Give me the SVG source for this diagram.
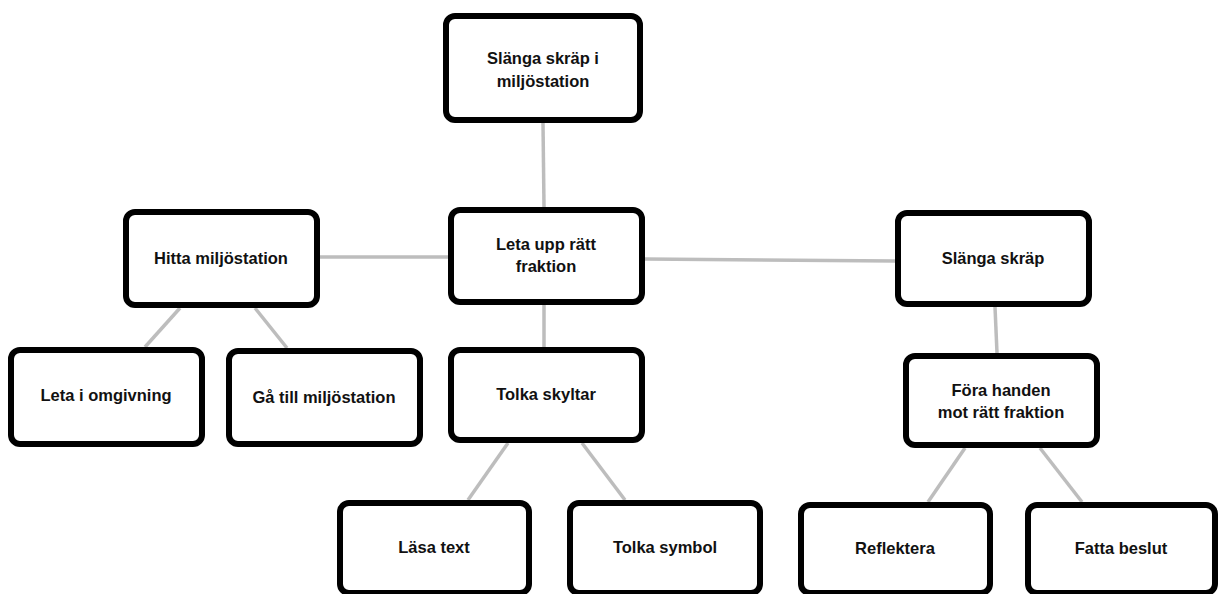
<svg xmlns="http://www.w3.org/2000/svg" width="1219" height="594" viewBox="0 0 1219 594">
<style>
.box{fill:#ffffff;stroke:#000000;stroke-width:6;}
.lbl{font-family:"Liberation Sans",Arial,sans-serif;font-weight:bold;font-size:16.5px;fill:#111111;text-anchor:middle;dominant-baseline:central;}
.con{stroke:#bdbdbd;stroke-width:3.5;fill:none;}
</style>
<rect x="0" y="0" width="1219" height="594" fill="#ffffff"/>
<g id="connectors">
<line class="con" x1="543" y1="123" x2="544" y2="207"/>
<line class="con" x1="320" y1="257" x2="448" y2="257"/>
<line class="con" x1="645" y1="259" x2="895" y2="261"/>
<line class="con" x1="544" y1="305" x2="544" y2="347"/>
<line class="con" x1="180" y1="308" x2="145" y2="347"/>
<line class="con" x1="255" y1="308" x2="287" y2="348"/>
<line class="con" x1="995" y1="307" x2="997" y2="353"/>
<line class="con" x1="508" y1="443" x2="468" y2="500"/>
<line class="con" x1="582" y1="443" x2="625" y2="500"/>
<line class="con" x1="965" y1="448" x2="928" y2="502"/>
<line class="con" x1="1040" y1="448" x2="1082" y2="502"/>
</g>
<g id="n-slanga-miljostation">
<rect class="box" x="446" y="16" width="194" height="104" rx="9"/>
<text class="lbl" x="543" y="58">Slänga skräp i</text>
<text class="lbl" x="543" y="81">miljöstation</text>
</g>
<g id="n-hitta">
<rect class="box" x="126" y="212" width="191" height="93" rx="9"/>
<text class="lbl" x="221" y="258">Hitta miljöstation</text>
</g>
<g id="n-leta-upp">
<rect class="box" x="451" y="210" width="191" height="92" rx="9"/>
<text class="lbl" x="546" y="244">Leta upp rätt</text>
<text class="lbl" x="546" y="266">fraktion</text>
</g>
<g id="n-slanga">
<rect class="box" x="898" y="213" width="191" height="91" rx="9"/>
<text class="lbl" x="993" y="258">Slänga skräp</text>
</g>
<g id="n-leta-omgivning">
<rect class="box" x="11" y="350" width="191" height="94" rx="9"/>
<text class="lbl" x="106" y="395">Leta i omgivning</text>
</g>
<g id="n-ga-till">
<rect class="box" x="229" y="351" width="191" height="93" rx="9"/>
<text class="lbl" x="324" y="397">Gå till miljöstation</text>
</g>
<g id="n-tolka-skyltar">
<rect class="box" x="451" y="350" width="191" height="90" rx="9"/>
<text class="lbl" x="546" y="394">Tolka skyltar</text>
</g>
<g id="n-fora-handen">
<rect class="box" x="906" y="356" width="191" height="89" rx="9"/>
<text class="lbl" x="1001" y="390">Föra handen</text>
<text class="lbl" x="1001" y="412">mot rätt fraktion</text>
</g>
<g id="n-lasa-text">
<rect class="box" x="340" y="503" width="189" height="90" rx="9"/>
<text class="lbl" x="434" y="547">Läsa text</text>
</g>
<g id="n-tolka-symbol">
<rect class="box" x="570" y="503" width="190" height="90" rx="9"/>
<text class="lbl" x="665" y="547">Tolka symbol</text>
</g>
<g id="n-reflektera">
<rect class="box" x="801" y="505" width="189" height="88" rx="9"/>
<text class="lbl" x="895" y="548">Reflektera</text>
</g>
<g id="n-fatta-beslut">
<rect class="box" x="1028" y="505" width="187" height="88" rx="9"/>
<text class="lbl" x="1121" y="548">Fatta beslut</text>
</g>
</svg>
